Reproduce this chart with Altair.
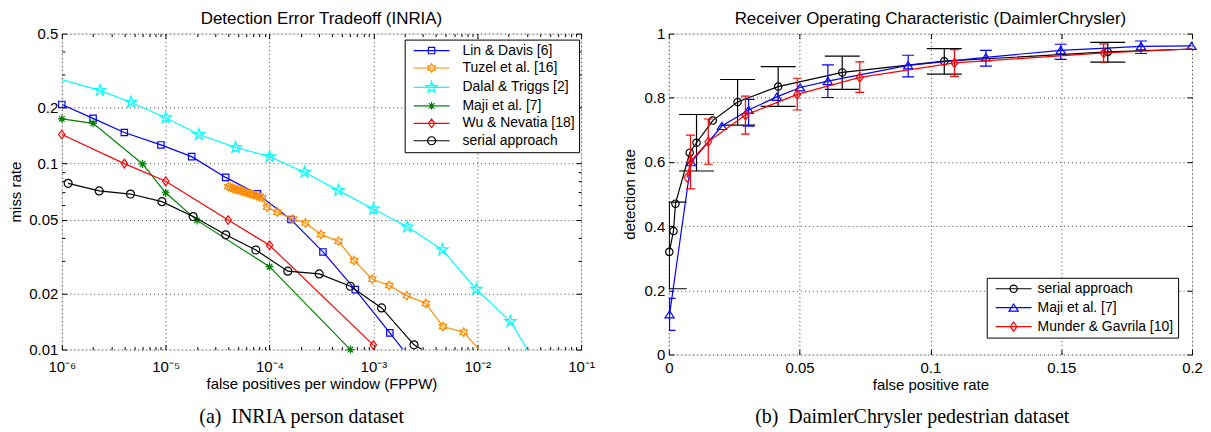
import re
import altair as alt
import pandas as pd

# ============ (a) INRIA person dataset : DET curves (log-log) ============
A_NAMES = ["Lin & Davis [6]", "Tuzel et al. [16]", "Dalal & Triggs [2]",
           "Maji et al. [7]", "Wu & Nevatia [18]", "serial approach"]

lin_x = [1e-6, 2e-6, 4e-6, 9e-6, 1.78e-5, 3.78e-5, 7.64e-5, 1.61e-4, 3.27e-4, 6.7e-4, 1.44e-3, 1.93e-3]
lin_y = [0.208, 0.175, 0.147, 0.126, 0.109, 0.0843, 0.0688, 0.050, 0.0335, 0.021, 0.0123, 0.0100]
lin_mk = [1, 1, 1, 1, 1, 1, 1, 1, 1, 1, 1, 0]

tuz_x = [4.0e-5, 4.2e-5, 4.4e-5, 4.6e-5, 4.9e-5, 5.2e-5, 5.5e-5, 5.8e-5, 6.2e-5, 6.6e-5, 7.0e-5,
         7.5e-5, 8.0e-5, 8.5e-5, 9.46e-5, 1.19e-4, 1.68e-4, 2.22e-4, 3.13e-4, 4.61e-4, 6.52e-4,
         9.76e-4, 1.42e-3, 2.1e-3, 3.2e-3, 4.68e-3, 7.41e-3, 1.04e-2]
tuz_y = [0.0752, 0.0745, 0.0738, 0.0731, 0.0724, 0.0716, 0.0709, 0.0702, 0.0695, 0.0688, 0.0680,
         0.0672, 0.0664, 0.0656, 0.0582, 0.0548, 0.0503, 0.0479, 0.0416, 0.0382, 0.0301,
         0.0239, 0.0221, 0.0195, 0.0177, 0.0133, 0.0124, 0.0100]
tuz_mk = [1] * 27 + [0]

dal_x = [1e-6, 2.33e-6, 4.64e-6, 1.0e-5, 2.09e-5, 4.7e-5, 1.0e-4, 2.17e-4, 4.6e-4, 1.0e-3,
         2.12e-3, 4.61e-3, 9.77e-3, 2.09e-2, 3.04e-2]
dal_y = [0.283, 0.2477, 0.2138, 0.1766, 0.1433, 0.1222, 0.109, 0.0899, 0.0718, 0.057,
         0.0457, 0.0344, 0.0211, 0.01417, 0.0100]
dal_mk = [0] + [1] * 13 + [0]

maj_x = [1e-6, 2e-6, 6e-6, 1e-5, 2e-5, 1e-4, 6e-4]
maj_y = [0.174, 0.1647, 0.0996, 0.0697, 0.0495, 0.0279, 0.0100]
maj_mk = [1, 1, 1, 1, 1, 1, 1]

wu_x = [1e-6, 4e-6, 1e-5, 4e-5, 1e-4, 1e-3]
wu_y = [0.1433, 0.100, 0.0804, 0.0497, 0.0364, 0.01057]
wu_mk = [1, 1, 1, 1, 1, 1]

ser_x = [1.15e-6, 2.29e-6, 4.58e-6, 9.2e-6, 1.84e-5, 3.79e-5, 7.38e-5, 1.5e-4, 3.01e-4,
         6.0e-4, 1.2e-3, 2.46e-3, 2.95e-3]
ser_y = [0.0783, 0.0713, 0.0686, 0.0624, 0.0519, 0.0414, 0.0343, 0.0264, 0.0255,
         0.0219, 0.01675, 0.0106, 0.0100]
ser_mk = [1] * 12 + [0]

A_X_MAJOR = [1e-6, 1e-5, 1e-4, 1e-3, 1e-2, 1e-1]
A_Y_MAJOR = [0.01, 0.02, 0.05, 0.1, 0.2, 0.5]
A_Y_MINOR = [0.03, 0.04, 0.06, 0.07, 0.08, 0.09, 0.3, 0.4]
A_X_MINOR = [m * d for d in [1e-6, 1e-5, 1e-4, 1e-3, 1e-2] for m in range(2, 10)]

# ============ (b) DaimlerChrysler pedestrian dataset : ROC ============
B_NAMES = ["serial approach", "Maji et al. [7]", "Munder & Gavrila [10]"]

bs_x = [0.0002, 0.0018, 0.00255, 0.008, 0.0106, 0.0168, 0.0263, 0.0418, 0.0663, 0.1053, 0.1678, 0.2]
bs_y = [0.32, 0.385, 0.47, 0.629, 0.66, 0.729, 0.787, 0.835, 0.879, 0.914, 0.943, 0.952]
bs_mk = [1] * 11 + [0]
bs_ex = [0.0002, 0.0106, 0.0263, 0.0418, 0.0663, 0.1053, 0.1678]
bs_lo = [0.205, 0.572, 0.715, 0.773, 0.826, 0.874, 0.911]
bs_hi = [0.475, 0.748, 0.857, 0.897, 0.930, 0.953, 0.973]

bm_x = [0.0003, 0.0085, 0.0203, 0.0305, 0.0413, 0.0502, 0.0608, 0.0915, 0.1212, 0.1498, 0.1805, 0.1998]
bm_y = [0.125, 0.599, 0.712, 0.762, 0.803, 0.832, 0.852, 0.901, 0.926, 0.948, 0.9605, 0.9615]
bm_mk = [1] * 12
bm_ex = [0.0003, 0.0305, 0.0608, 0.0915, 0.1212, 0.1498, 0.1805]
bm_lo = [0.0755, 0.712, 0.801, 0.865, 0.899, 0.920, 0.938]
bm_hi = [0.175, 0.795, 0.9025, 0.9326, 0.948, 0.9668, 0.977]

mg_x = [0.007, 0.0083, 0.0151, 0.0293, 0.0491, 0.073, 0.1092, 0.1662, 0.2]
mg_y = [0.5516, 0.6025, 0.663, 0.746, 0.8106, 0.8634, 0.9087, 0.9398, 0.952]
mg_mk = [1] * 8 + [0]
mg_ex = [0.0083, 0.0151, 0.0293, 0.0491, 0.073, 0.1092, 0.1662]
mg_lo = [0.5165, 0.593, 0.687, 0.762, 0.817, 0.867, 0.911]
mg_hi = [0.684, 0.734, 0.805, 0.861, 0.912, 0.950, 0.968]

B_X_MAJOR = [0, 0.05, 0.1, 0.15, 0.2]
B_Y_MAJOR = [0, 0.2, 0.4, 0.6, 0.8, 1.0]

# ============ styles ============
FONT = "Liberation Sans"
SERIF = "Liberation Serif"
LW = 1.2

SQUARE = "M-1,-1L1,-1L1,1L-1,1Z"
STAR5 = ("M0,-1L0.223,-0.307L0.951,-0.309L0.361,0.117L0.588,0.809L0,0.38L-0.588,0.809"
         "L-0.361,0.117L-0.951,-0.309L-0.223,-0.307Z")
HEXA = ("M0,-1L0.289,-0.5L0.866,-0.5L0.577,0L0.866,0.5L0.289,0.5L0,1L-0.289,0.5"
        "L-0.866,0.5L-0.577,0L-0.866,-0.5L-0.289,-0.5Z")
ASTER = "M-1,0L1,0M0,-1L0,1M-0.7,-0.7L0.7,0.7M-0.7,0.7L0.7,-0.7"
DIAM = "M0,-1L0.74,0L0,1L-0.74,0Z"
TRI = "M0,-0.8L1,0.75L-1,0.75Z"
CIRC = "circle"

LEG_SIZE = 100          # legend symbol size -> unit radius 5 px
LEG_R = 5.0
LEG_LINE = "M-3.6,0L3.6,0"


def scale_path(p, k):
    return re.sub(r"-?\d+\.?\d*", lambda m: f"{float(m.group()) * k:.3f}", p)


def legend_path(shape, half):
    k = half / LEG_R
    if shape == "circle":
        marker = f"M{k:.3f},0A{k:.3f},{k:.3f},0,1,1,{-k:.3f},0A{k:.3f},{k:.3f},0,1,1,{k:.3f},0Z"
    else:
        marker = scale_path(shape, k)
    return LEG_LINE + marker


A_STYLE = {
    "Lin & Davis [6]": ("#0000ff", SQUARE, 3.2),
    "Tuzel et al. [16]": ("#ff8c00", HEXA, 4.3),
    "Dalal & Triggs [2]": ("#00ffff", STAR5, 6.0),
    "Maji et al. [7]": ("#008000", ASTER, 4.0),
    "Wu & Nevatia [18]": ("#ff0000", DIAM, 4.3),
    "serial approach": ("#000000", CIRC, 4.0),
}
B_STYLE = {
    "serial approach": ("#000000", CIRC, 3.7, 17.5),
    "Maji et al. [7]": ("#0000ff", TRI, 4.6, 6.0),
    "Munder & Gavrila [10]": ("#ff0000", DIAM, 4.6, 4.5),
}

AX = dict(labelFont=FONT, labelFontSize=15, labelColor="black", titleFont=FONT,
          titleFontSize=15, titleFontWeight="normal", titleColor="black",
          tickColor="black", tickWidth=1, domain=False, grid=False,
          labelFlush=False, labelOverlap=False, minExtent=0)


def sdf(xs, ys, mk):
    return pd.DataFrame({"x": xs, "y": ys, "mk": mk, "i": list(range(len(xs)))})


def enc(xsc, ysc, xf="x:Q", yf="y:Q"):
    return dict(x=alt.X(xf, scale=xsc, axis=None), y=alt.Y(yf, scale=ysc, axis=None))


def line_layer(df, color, xsc, ysc):
    return alt.Chart(df).mark_line(color=color, strokeWidth=LW, clip=True).encode(
        order="i:Q", **enc(xsc, ysc))


def point_layer(df, color, shape, half, xsc, ysc):
    return alt.Chart(df).transform_filter("datum.mk == 1").mark_point(
        shape=shape, size=(2 * half) ** 2, filled=False, color=color,
        strokeWidth=LW, opacity=1).encode(**enc(xsc, ysc))


def err_layers(ex, lo, hi, color, capw, xsc, ysc):
    edf = pd.DataFrame({"x": ex, "lo": lo, "hi": hi})
    stem = alt.Chart(edf).mark_rule(color=color, strokeWidth=LW, clip=True).encode(
        y2="hi:Q", **enc(xsc, ysc, yf="lo:Q"))
    caps = alt.Chart(edf).transform_fold(["lo", "hi"], as_=["end", "v"]).mark_tick(
        orient="horizontal", size=2 * capw, thickness=LW, color=color, clip=True,
        opacity=1).encode(**enc(xsc, ysc, yf="v:Q"))
    return [stem, caps]


def axis_layer(df, xaxis, yaxis, xsc, ysc):
    return alt.Chart(df).mark_point(opacity=0).encode(
        x=alt.X("x:Q", scale=xsc, axis=xaxis), y=alt.Y("y:Q", scale=ysc, axis=yaxis))


def frame_axes(df, xsc, ysc, W, H, xmaj, ymaj, xmin, ymin, xlab, ylab, xtitle, ytitle,
               xlabpad, ylabpad, xtitlepad, ytitlepad):
    layers = []
    gx = alt.Axis(orient="bottom", values=xmaj, grid=True, gridDash=[1, 3], gridColor="#444444",
                  gridWidth=1, ticks=False, labels=False, domain=False, title=None, minExtent=0)
    gy = alt.Axis(orient="left", values=ymaj, grid=True, gridDash=[1, 3], gridColor="#444444",
                  gridWidth=1, ticks=False, labels=False, domain=False, title=None, minExtent=0)
    layers.append(axis_layer(df, gx, gy, xsc, ysc))
    # labelled axes, ticks pointing inward
    xa = alt.Axis(orient="bottom", values=xmaj, tickSize=5, offset=-5, labelPadding=xlabpad,
                  title=xtitle, titlePadding=xtitlepad, **xlab, **AX)
    ya = alt.Axis(orient="left", values=ymaj, tickSize=5, offset=-5, labelPadding=ylabpad,
                  title=ytitle, titlePadding=ytitlepad, **ylab, **AX)
    layers.append(axis_layer(df, xa, ya, xsc, ysc))
    # mirrored ticks on the top and right edges (bottom/left axes pushed across the plot)
    xt = alt.Axis(orient="bottom", values=xmaj, tickSize=5, offset=-H, labels=False, title=None, **AX)
    yr = alt.Axis(orient="left", values=ymaj, tickSize=5, offset=-W, labels=False, title=None, **AX)
    layers.append(axis_layer(df, xt, yr, xsc, ysc))
    if xmin:
        xb2 = alt.Axis(orient="bottom", values=xmin, tickSize=3, offset=-3, labels=False, title=None, **AX)
        yl2 = alt.Axis(orient="left", values=ymin, tickSize=3, offset=-3, labels=False, title=None, **AX)
        layers.append(axis_layer(df, xb2, yl2, xsc, ysc))
        xt2 = alt.Axis(orient="bottom", values=xmin, tickSize=3, offset=-H, labels=False, title=None, **AX)
        yr2 = alt.Axis(orient="left", values=ymin, tickSize=3, offset=-W, labels=False, title=None, **AX)
        layers.append(axis_layer(df, xt2, yr2, xsc, ysc))
    return layers


def legend_layer(names, colors, paths, lx, ly, row_pad, lab_off, pad):
    ldf = pd.DataFrame({"series": names})
    leg = alt.Legend(title=None, orient="none", legendX=lx, legendY=ly, direction="vertical",
                     labelFont=FONT, labelFontSize=14, labelColor="black", labelLimit=400,
                     symbolSize=LEG_SIZE, symbolStrokeWidth=LW, symbolFillColor="transparent",
                     symbolOffset=16, labelOffset=lab_off, rowPadding=row_pad,
                     strokeColor="black", fillColor="white", padding=pad, cornerRadius=0)
    return alt.Chart(ldf).transform_filter("datum.series == 'none'").mark_point(
        filled=False, opacity=1, strokeWidth=LW).encode(
        stroke=alt.Stroke("series:N", scale=alt.Scale(domain=names, range=colors), legend=leg),
        shape=alt.Shape("series:N", scale=alt.Scale(domain=names, range=paths), legend=leg),
    )


def title(text):
    return alt.TitleParams(text, font=FONT, fontSize=17, fontWeight="normal", color="black",
                           anchor="middle", frame="group", offset=-1)


def caption(text, off):
    return alt.TitleParams(text, orient="bottom", font=SERIF, fontSize=20, fontWeight="normal",
                           color="black", anchor="middle", frame="bounds", offset=off)


# ---------------- panel (a) ----------------
AW, AH = 521, 317
axs = alt.Scale(type="log", domain=[1e-6, 1e-1], nice=False)
ays = alt.Scale(type="log", domain=[0.01, 0.5], nice=False)
a_data = {
    "Lin & Davis [6]": sdf(lin_x, lin_y, lin_mk),
    "Tuzel et al. [16]": sdf(tuz_x, tuz_y, tuz_mk),
    "Dalal & Triggs [2]": sdf(dal_x, dal_y, dal_mk),
    "Maji et al. [7]": sdf(maj_x, maj_y, maj_mk),
    "Wu & Nevatia [18]": sdf(wu_x, wu_y, wu_mk),
    "serial approach": sdf(ser_x, ser_y, ser_mk),
}
x_exp = ("datum.value < 5e-6 ? '10\u207b\u2076' : datum.value < 5e-5 ? '10\u207b\u2075' : "
         "datum.value < 5e-4 ? '10\u207b\u2074' : datum.value < 5e-3 ? '10\u207b\u00b3' : "
         "datum.value < 5e-2 ? '10\u207b\u00b2' : '10\u207b\u00b9'")
a_layers = frame_axes(a_data["serial approach"], axs, ays, AW, AH, A_X_MAJOR, A_Y_MAJOR,
                      A_X_MINOR, A_Y_MINOR, dict(labelExpr=x_exp), dict(format="~g"),
                      "false positives per window (FPPW)", "miss rate", 10, 4, 2, 5)
for name in A_NAMES:
    col, shp, half = A_STYLE[name]
    a_layers.append(line_layer(a_data[name], col, axs, ays))
    a_layers.append(point_layer(a_data[name], col, shp, half, axs, ays))
a_layers.append(legend_layer(A_NAMES, [A_STYLE[n][0] for n in A_NAMES],
                             [legend_path(A_STYLE[n][1], A_STYLE[n][2]) for n in A_NAMES],
                             344, 6, 3.5, 24, 4))
panel_a = alt.layer(*a_layers).resolve_axis(x="independent", y="independent").properties(
    width=AW, height=AH, title=title("Detection Error Tradeoff (INRIA)"))

# ---------------- panel (b) ----------------
BW, BH = 525, 322
bxs = alt.Scale(type="linear", domain=[0, 0.2], nice=False, zero=False)
bys = alt.Scale(type="linear", domain=[0, 1], nice=False, zero=False)
b_data = {
    "serial approach": (sdf(bs_x, bs_y, bs_mk), bs_ex, bs_lo, bs_hi),
    "Maji et al. [7]": (sdf(bm_x, bm_y, bm_mk), bm_ex, bm_lo, bm_hi),
    "Munder & Gavrila [10]": (sdf(mg_x, mg_y, mg_mk), mg_ex, mg_lo, mg_hi),
}
b_layers = frame_axes(b_data["serial approach"][0], bxs, bys, BW, BH, B_X_MAJOR, B_Y_MAJOR,
                      None, None, dict(format="~g"), dict(format="~g"),
                      "false positive rate", "detection rate", 6, 4, 2, 7)
for name in B_NAMES:
    col, shp, half, capw = B_STYLE[name]
    df, ex, lo, hi = b_data[name]
    b_layers.append(line_layer(df, col, bxs, bys))
    b_layers.extend(err_layers(ex, lo, hi, col, capw, bxs, bys))
    b_layers.append(point_layer(df, col, shp, half, bxs, bys))
b_layers.append(legend_layer(B_NAMES, [B_STYLE[n][0] for n in B_NAMES],
                             [legend_path(B_STYLE[n][1], B_STYLE[n][2]) for n in B_NAMES],
                             319, 245, 5, 17, 4))
panel_b = alt.layer(*b_layers).resolve_axis(x="independent", y="independent").properties(
    width=BW, height=BH, title=title("Receiver Operating Characteristic (DaimlerChrysler)"))

chart = alt.hconcat(
    alt.hconcat(panel_a, title=caption("(a)\u2002INRIA person dataset", 15)),
    alt.hconcat(panel_b, title=caption("(b)\u2002DaimlerChrysler pedestrian dataset", 14)),
    spacing=26,
).resolve_scale(stroke="independent", shape="independent").properties(
    padding={"left": 0, "top": 0, "right": 0, "bottom": 0}
).configure_view(stroke="black", strokeWidth=1).configure(background="white")

chart.save("out.html", embed_options={"renderer": "svg", "actions": False})
